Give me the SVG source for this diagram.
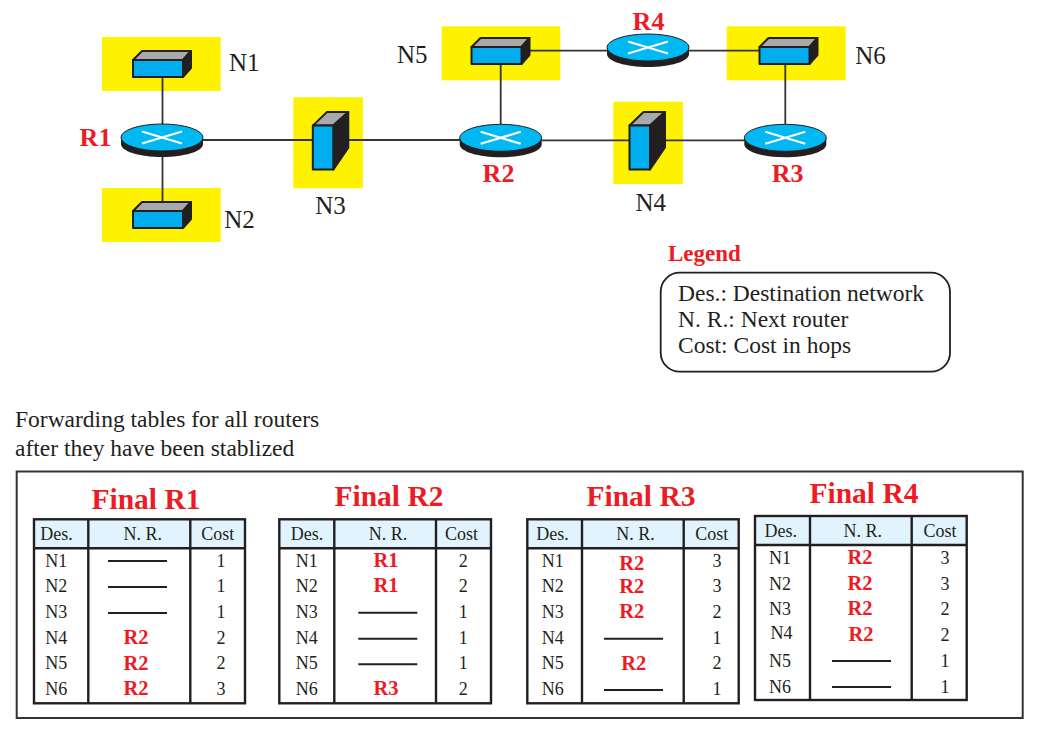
<svg xmlns="http://www.w3.org/2000/svg" width="1057" height="741" viewBox="0 0 1057 741">
<style>
text{font-family:"Liberation Serif","Times New Roman",serif;fill:#231f20}
.r{fill:#ed1c24;font-weight:bold}
.lab{font-size:25px}
.rl{font-size:26px;text-anchor:middle}
.ttl{font-size:29.5px;text-anchor:middle}
.t{font-size:18px;text-anchor:middle}
.v{font-size:20.500px;text-anchor:middle}
.leg{font-size:23.500px}
.y{fill:#fff200}
.ln{stroke:#333;stroke-width:1.800;fill:none}
.g{stroke:#231f20;stroke-width:2.400;fill:none}
.d{stroke:#231f20;stroke-width:2}
.hd{fill:#e1f4fd}
</style>
<defs>
<g id="sw" stroke="#231f20" stroke-width="2" stroke-linejoin="round">
<path d="M0 0L9-9H58L50 0Z" fill="#a7a9ac"/>
<path d="M50 0L58-9V8L50 17Z" fill="#231f20"/>
<rect width="50" height="17" fill="#00aeef"/>
</g>
<g id="cab" stroke="#231f20" stroke-width="2" stroke-linejoin="round">
<path d="M0 0L14-13.500H35.500L20.500 0Z" fill="#a7a9ac"/>
<path d="M20.500 0L35.500-13.500V22L20.500 44Z" fill="#231f20"/>
<rect width="20.500" height="44" fill="#00aeef"/>
</g>
<g id="rt">
<path d="M-41 0V6.500C-41 14 -22 19.500 0 19.500S41 14 41 6.500V0Z" fill="#231f20"/>
<ellipse rx="41" ry="13.500" fill="#00b9f2" stroke="#231f20" stroke-width="1"/>
<path d="M-20-6L20 6M-20 6L20-6" stroke="#fff" stroke-width="2.200" fill="none"/>
</g>
</defs>

<rect class="y" x="102" y="37" width="118.700" height="54"/>
<rect class="y" x="102" y="188" width="118.700" height="54"/>
<rect class="y" x="293.300" y="97.300" width="69.700" height="91"/>
<rect class="y" x="613.300" y="101.700" width="69.700" height="82.300"/>
<rect class="y" x="441.700" y="26.300" width="118.600" height="54"/>
<rect class="y" x="726.700" y="26.300" width="119" height="54"/>

<g id="connectors">
<path class="ln" d="M162.500 77V124M162.500 157V202"/>
<path class="ln" d="M203 140H313M348 140H460M541.500 140.300H630M665 140.300H745"/>
<path class="ln" d="M530 50.700H607.500M689 50.700H759.500"/>
<path class="ln" d="M500.700 64V124.500M785.300 64V124.500"/>
</g>

<g id="N1"><use href="#sw" x="133" y="60"/><text class="lab" x="229" y="71">N1</text></g>
<g id="N2"><use href="#sw" x="133" y="211"/><text class="lab" x="224.300" y="228.300">N2</text></g>
<g id="N3"><use href="#cab" x="312.800" y="125.600"/><text class="lab" x="315.200" y="214.300">N3</text></g>
<g id="N4"><use href="#cab" x="629.500" y="125.500"/><text class="lab" x="635.500" y="211">N4</text></g>
<g id="N5"><use href="#sw" x="471.500" y="47"/><text class="lab" x="397" y="63">N5</text></g>
<g id="N6"><use href="#sw" x="759.500" y="47"/><text class="lab" x="855.200" y="64.300">N6</text></g>
<g id="R1"><use href="#rt" x="162" y="137.500"/><text class="r rl" x="95.500" y="146">R1</text></g>
<g id="R2"><use href="#rt" x="500.700" y="137.800"/><text class="r rl" x="498.500" y="181.700">R2</text></g>
<g id="R3"><use href="#rt" x="785.300" y="137.800"/><text class="r rl" x="787.700" y="181.700">R3</text></g>
<g id="R4"><use href="#rt" x="648" y="47.500"/><text class="r rl" x="648.500" y="30">R4</text></g>

<g id="legend">
<text class="r" x="668" y="261" style="font-size:23px">Legend</text>
<rect x="660.700" y="272.700" width="289.300" height="99" rx="19" fill="#fff" stroke="#231f20" stroke-width="1.800"/>
<text class="leg" x="678" y="300.500">Des.: Destination network</text>
<text class="leg" x="678" y="327">N. R.: Next router</text>
<text class="leg" x="678" y="352.500">Cost: Cost in hops</text>
</g>

<g id="caption">
<text class="leg" x="15" y="426.700">Forwarding tables for all routers</text>
<text class="leg" x="15" y="455.700">after they have been stablized</text>
</g>

<rect id="frame" x="16.700" y="471.500" width="1006" height="246.500" fill="#fff" stroke="#333" stroke-width="2"/>

<g id="tableR1">
<text class="r ttl" x="146" y="508.500">Final R1</text>
<rect class="hd" x="34" y="519.300" width="211" height="29"/>
<rect class="g" x="34" y="519.300" width="211" height="184"/>
<path class="g" d="M34 548.300H245M88.300 519.300V703.300M190.300 519.300V703.300"/>
<text class="t" x="56.500" y="540">Des.</text><text class="t" x="142.700" y="540">N. R.</text><text class="t" x="217.700" y="540">Cost</text>
<text class="t" x="56.300" y="566.700">N1</text><text class="t" x="56.300" y="592.300">N2</text><text class="t" x="56.300" y="618">N3</text><text class="t" x="56.300" y="643.500">N4</text><text class="t" x="56.300" y="669.300">N5</text><text class="t" x="56.300" y="695">N6</text>
<path class="d" d="M108 561H167M108 587H167M108 613H167"/>
<text class="r v" x="136" y="644">R2</text><text class="r v" x="136" y="669.700">R2</text><text class="r v" x="136" y="695.300">R2</text>
<text class="t" x="221" y="566.700">1</text><text class="t" x="221" y="592.300">1</text><text class="t" x="221" y="618">1</text><text class="t" x="221" y="643.500">2</text><text class="t" x="221" y="669.300">2</text><text class="t" x="221" y="695">3</text>
</g>

<g id="tableR2">
<text class="r ttl" x="389" y="505.700">Final R2</text>
<rect class="hd" x="279.300" y="519.300" width="211.700" height="29"/>
<rect class="g" x="279.300" y="519.300" width="211.700" height="184"/>
<path class="g" d="M279.300 548.300H491M334.300 519.300V703.300M436 519.300V703.300"/>
<text class="t" x="307" y="540">Des.</text><text class="t" x="388" y="540">N. R.</text><text class="t" x="461.500" y="540">Cost</text>
<text class="t" x="306.700" y="566.700">N1</text><text class="t" x="306.700" y="592.300">N2</text><text class="t" x="306.700" y="618">N3</text><text class="t" x="306.700" y="643.500">N4</text><text class="t" x="306.700" y="669.300">N5</text><text class="t" x="306.700" y="695">N6</text>
<text class="r v" x="386" y="566.700">R1</text><text class="r v" x="386" y="592.300">R1</text>
<path class="d" d="M358.300 612.700H417.300M358.300 638.700H417.300M358.300 664.300H417.300"/>
<text class="r v" x="386" y="695.300">R3</text>
<text class="t" x="463.300" y="566.700">2</text><text class="t" x="463.300" y="592.300">2</text><text class="t" x="463.300" y="618">1</text><text class="t" x="463.300" y="643.500">1</text><text class="t" x="463.300" y="669.300">1</text><text class="t" x="463.300" y="695">2</text>
</g>

<g id="tableR3">
<text class="r ttl" x="641" y="505.700">Final R3</text>
<rect class="hd" x="527.300" y="519.300" width="211.400" height="29"/>
<rect class="g" x="527.300" y="519.300" width="211.400" height="184"/>
<path class="g" d="M527.300 548.300H738.700M582 519.300V703.300M683.700 519.300V703.300"/>
<text class="t" x="552.500" y="540">Des.</text><text class="t" x="635.500" y="540">N. R.</text><text class="t" x="711.700" y="540">Cost</text>
<text class="t" x="552.700" y="566.700">N1</text><text class="t" x="552.700" y="592.300">N2</text><text class="t" x="552.700" y="618">N3</text><text class="t" x="552.700" y="643.500">N4</text><text class="t" x="552.700" y="669.300">N5</text><text class="t" x="552.700" y="695">N6</text>
<text class="r v" x="631.700" y="569.500">R2</text><text class="r v" x="631.700" y="592.700">R2</text><text class="r v" x="631.700" y="618.300">R2</text>
<path class="d" d="M604 638.700H663M604 690H663"/>
<text class="r v" x="633.700" y="670">R2</text>
<text class="t" x="717" y="566.700">3</text><text class="t" x="717" y="592.300">3</text><text class="t" x="717" y="618">2</text><text class="t" x="717" y="643.500">1</text><text class="t" x="717" y="669.300">2</text><text class="t" x="717" y="695">1</text>
</g>

<g id="tableR4">
<text class="r ttl" x="864" y="503">Final R4</text>
<rect class="hd" x="755" y="516" width="211.700" height="29"/>
<rect class="g" x="755" y="516" width="211.700" height="184"/>
<path class="g" d="M755 545H966.700M810 516V700M911.700 516V700"/>
<text class="t" x="780.700" y="536.700">Des.</text><text class="t" x="862.700" y="536.700">N. R.</text><text class="t" x="940" y="536.700">Cost</text>
<text class="t" x="780" y="563.700">N1</text><text class="t" x="780" y="589.500">N2</text><text class="t" x="780" y="615">N3</text><text class="t" x="781.500" y="639">N4</text><text class="t" x="780" y="666.500">N5</text><text class="t" x="780" y="692.500">N6</text>
<text class="r v" x="860" y="564">R2</text><text class="r v" x="860" y="590">R2</text><text class="r v" x="860" y="615.300">R2</text><text class="r v" x="861" y="641">R2</text>
<path class="d" d="M832 661H891M832 687H891"/>
<text class="t" x="945" y="563.700">3</text><text class="t" x="945" y="589.500">3</text><text class="t" x="945" y="615">2</text><text class="t" x="945" y="641">2</text><text class="t" x="945" y="666.500">1</text><text class="t" x="945" y="692.500">1</text>
</g>
</svg>
